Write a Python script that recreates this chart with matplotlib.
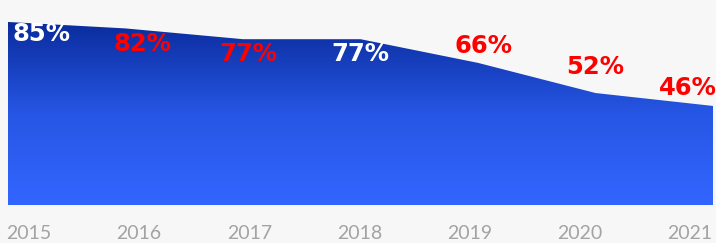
import numpy as np
import matplotlib.pyplot as plt
from matplotlib.colors import LinearSegmentedColormap

years = ['2015', '2016', '2017', '2018', '2019', '2020', '2021']
share = [85, 82, 77, 77, 66, 52, 46]
label_colors = ['white', 'red', 'red', 'white', 'red', 'red', 'red']
# label offsets from the point, in points
label_dy = [-9, -11, -11, -11, 12, 18.5, 13]
label_dx = [24, 12, 4, 0, 4, 0, -18]

bg = '#f7f7f7'
fig = plt.figure(figsize=(7.16, 2.43), dpi=100, facecolor=bg)
ax = fig.add_axes([8/716, 38/243, 705/716, 205/243])
ax.set_facecolor(bg)

x = np.arange(len(years))
ax.set_xlim(0, len(years) - 1)
ax.set_ylim(0, 95.2)

poly = ax.fill_between(x, share, 0, facecolor='none', edgecolor='none')
cmap = LinearSegmentedColormap.from_list('g', ['#3366ff', '#2656e4', '#0a2b9c'])
grad = np.linspace(0, 1, 256).reshape(-1, 1)
img = ax.imshow(grad, cmap=cmap, aspect='auto', origin='lower',
                extent=[0, len(years) - 1, 0, max(share)], zorder=1)
img.set_clip_path(poly.get_paths()[0], transform=ax.transData)

for i, v in enumerate(share):
    ax.annotate(f'{v}%', (x[i], v), xytext=(label_dx[i], label_dy[i]),
                textcoords='offset points', ha='center', va='center',
                fontsize=17.5, fontweight='bold', color=label_colors[i],
                family='DejaVu Sans', zorder=3)

ax.axis('off')

# year labels spread evenly under the chart
xs = np.linspace(29, 690, len(years))
for xp, yr in zip(xs, years):
    fig.text(xp / 716, 10 / 243, yr, ha='center', va='center', fontsize=14,
             color='#a3a3a3', family=['Lato', 'DejaVu Sans'])

fig.savefig('out.png', dpi=100, facecolor=bg)
